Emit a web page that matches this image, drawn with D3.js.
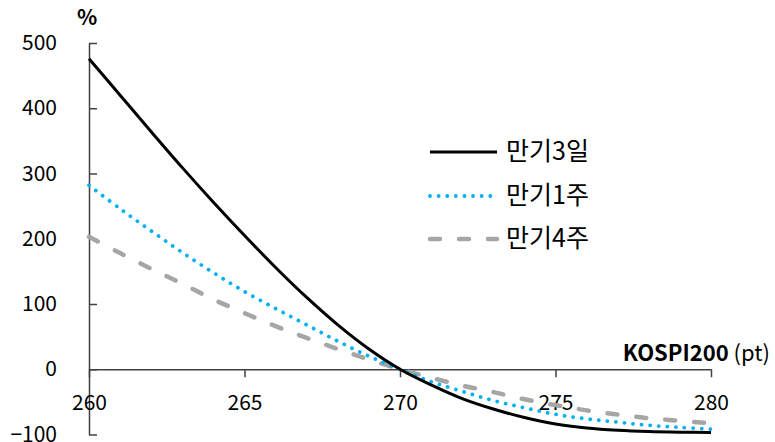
<!DOCTYPE html>
<html><head><meta charset="utf-8">
<script src="https://cdn.jsdelivr.net/npm/d3@7"></script>
<style>
body{margin:0;background:#fff;}
text{font-family:"Noto Sans CJK KR","Noto Sans",sans-serif;fill:#000;}
</style></head>
<body><svg id="c" width="775" height="442"></svg>
<script>
const kospi = [260,261,262,263,264,265,266,267,268,269,270,271,272,273,274,275,276,277,278,279,280];
const ret3d = [476,420,364,309,256,205,156,110,68,31,0,-24,-45,-61,-74,-84,-90,-93.5,-95.5,-96.5,-97];
const ret1w = [282,246,212,179,148,119,93,68,43,20,0,-19,-34,-48,-59,-69,-76,-81,-86,-89,-92];
const ret4w = [203,178,154,131,107,86,66,48,31,15,0,-13,-25,-35,-46,-55,-63,-69.5,-75,-79,-83];
const seriesNames = ["만기3일","만기1주","만기4주"];
const xTicks = [260,265,270,275,280];
const yTicks = [-100,0,100,200,300,400,500];

const svg = d3.select("#c");
const x = d3.scaleLinear().domain([260,280]).range([89,711]);
const y = d3.scaleLinear().domain([-100,500]).range([434.5,43]);
const fs = 21;

// y axis
const ya = svg.append("g").attr("transform","translate(89,0)")
  .call(d3.axisLeft(y).tickValues(yTicks).tickSizeInner(-8).tickSizeOuter(0).tickPadding(32).tickFormat(d3.format("d")));
ya.select(".domain").attr("stroke","#404040").attr("stroke-width",1.5);
ya.selectAll(".tick line").attr("stroke","#404040").attr("stroke-width",1.5);
ya.selectAll("text").attr("font-size",fs).attr("font-family","Noto Sans CJK KR").attr("fill","#000");

// x axis at y=0
const xa = svg.append("g").attr("transform",`translate(0,${y(0)})`)
  .call(d3.axisBottom(x).tickValues(xTicks).tickSizeInner(8).tickSizeOuter(0).tickPadding(18));
xa.select(".domain").attr("stroke","#404040").attr("stroke-width",1.5);
xa.selectAll(".tick line").attr("stroke","#404040").attr("stroke-width",1.5);
xa.selectAll("text").attr("font-size",fs).attr("font-family","Noto Sans CJK KR").attr("fill","#000");

// axis titles
svg.append("text").attr("x",87).attr("y",25).attr("text-anchor","middle")
  .attr("font-size",21).attr("font-weight","bold").text("%");
const xt = svg.append("text").attr("x",770).attr("y",361).attr("text-anchor","end").attr("font-size",22);
xt.append("tspan").attr("font-weight","bold").text("KOSPI200");
xt.append("tspan").text(" (pt)");

const styles = [
  {data:ret3d, stroke:"#000000", w:3, dash:null, cap:"butt"},
  {data:ret1w, stroke:"#00B0F0", w:3.8, dash:"0.01 8.6", cap:"round"},
  {data:ret4w, stroke:"#A6A6A6", w:4.5, dash:"10 19", cap:"round"}
];
const line = d3.line().x((d,i)=>x(kospi[i])).y(d=>y(d)).curve(d3.curveCatmullRom.alpha(0.5));
// draw in order: gray, blue, black
[2,1,0].forEach(k=>{
  const s = styles[k];
  svg.append("path").attr("d",line(s.data)).attr("fill","none")
    .attr("stroke",s.stroke).attr("stroke-width",s.w)
    .attr("stroke-dasharray",s.dash).attr("stroke-linecap",s.cap);
});

// legend
const ly = [152,196,239];
seriesNames.forEach((n,k)=>{
  const s = styles[k];
  svg.append("line").attr("x1",430).attr("x2",497).attr("y1",ly[k]).attr("y2",ly[k])
    .attr("stroke",s.stroke).attr("stroke-width",s.w)
    .attr("stroke-dasharray",s.dash).attr("stroke-linecap",s.cap);
  svg.append("text").attr("x",506).attr("y",ly[k]-1).attr("dy","0.36em").attr("font-size",25).text(n);
});
</script></body></html>
